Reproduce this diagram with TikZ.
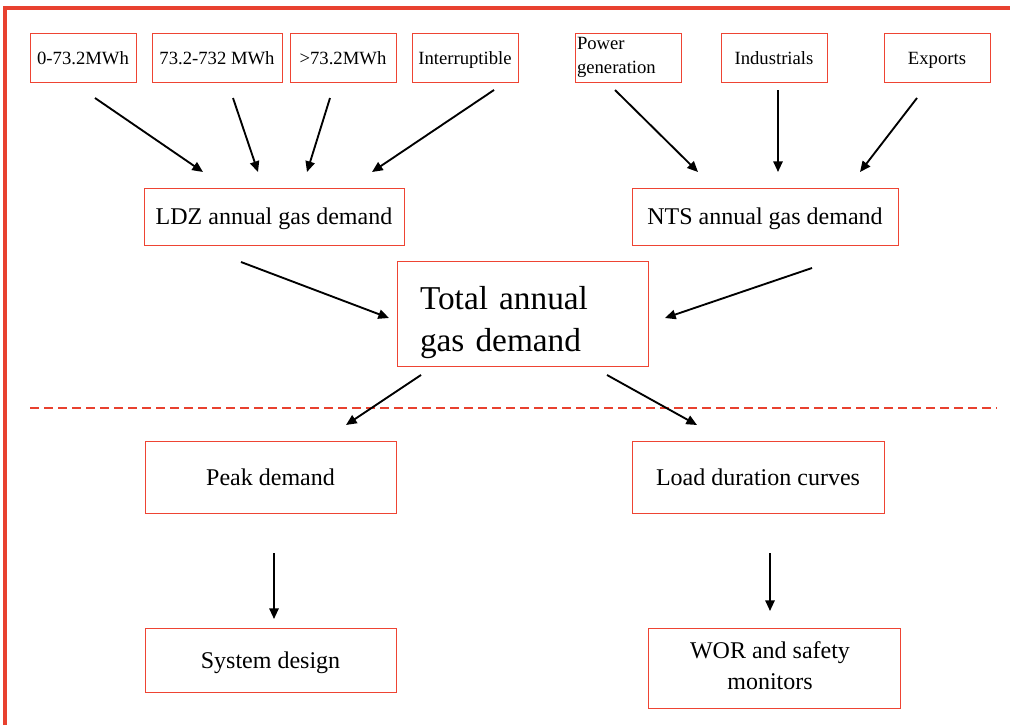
\documentclass[tikz,border=0pt]{standalone}
\usepackage{fontspec}
\setmainfont{Liberation Serif}
\usetikzlibrary{arrows.meta}
\definecolor{framered}{HTML}{E8412F}
\definecolor{boxred}{HTML}{EE4433}
\tikzset{
  box/.style 2 args={draw=boxred, line width=0.6pt, inner sep=0pt,
    minimum width=#1*0.75pt, minimum height=#2*0.75pt},
  small/.style={font=\fontsize{14}{18}\selectfont, text height=13pt, text depth=2.4pt},
  mid/.style={font=\fontsize{18}{23}\selectfont, text height=16pt, text depth=3.7pt},
  big/.style={font=\fontsize{25}{31.5}\selectfont},
  arr/.style={draw=black, line width=1.4pt, -{Triangle[length=8pt,width=7pt]}},
}
\begin{document}
\begin{tikzpicture}[x=0.75pt,y=-0.75pt]
\useasboundingbox (0,0) rectangle (1010,725);
% frame
\draw[framered, line width=2.4pt] (5,725) -- (5,8) -- (1010,8);
% dashed separator
\draw[framered, line width=1.5pt, dash pattern=on 7pt off 3.5pt] (30,408) -- (997,408);

% top boxes
\node[box={106}{49}, small] (b1) at (83,57.5) {0-73.2MWh};
\node[box={130}{49}, small] (b2) at (217,57.5) {73.2-732 MWh};
\node[box={106}{49}, small] (b3) at (343,57.5) {>73.2MWh};
\node[box={106}{49}, small] (b4) at (465,57.5) {Interruptible};
\node[box={106}{49}, font=\fontsize{14}{18}\selectfont, text width=102*0.75pt, align=left] (b5) at (628,57.5) {Power\\generation};
\node[box={106}{49}, small] (b6) at (774,57.5) {Industrials};
\node[box={106}{49}, small] (b7) at (937,57.5) {Exports};

% middle
\node[box={260}{57}, mid] (ldz) at (274,216.5) {LDZ annual gas demand};
\node[box={266}{57}, mid] (nts) at (765,216.5) {NTS annual gas demand};
\node[box={251}{105}] (tot) at (522.5,313.5) {};
\node[big, inner sep=0pt, text width=205*0.75pt, align=left] (tottext) at (522.5,323) {Total annual\\gas demand};

% lower
\node[box={251}{72}, mid] (peak) at (270.5,477) {Peak demand};
\node[box={252}{72}, mid] (load) at (758,477) {Load duration curves};
\node[box={251}{64}, mid] (sys) at (270.5,660) {System design};
\node[box={252}{80}] (wor) at (774,668) {};
\node[font=\fontsize{18}{23}\selectfont, align=center, inner sep=0pt] (wortext) at (770,665.5) {WOR and safety\\monitors};

% arrow end points
\coordinate (a1s) at (95,98);   \coordinate (a1e) at (203,172);
\coordinate (a2s) at (233,98);  \coordinate (a2e) at (258,172);
\coordinate (a3s) at (330,98);  \coordinate (a3e) at (307,172);
\coordinate (a4s) at (494,90);  \coordinate (a4e) at (372,172);
\coordinate (a5s) at (615,90);  \coordinate (a5e) at (698,172);
\coordinate (a6s) at (778,90);  \coordinate (a6e) at (778,172);
\coordinate (a7s) at (917,98);  \coordinate (a7e) at (860,172);
\coordinate (a8s) at (241,262); \coordinate (a8e) at (389,318);
\coordinate (a9s) at (812,268); \coordinate (a9e) at (665,318);
\coordinate (a10s) at (421,375); \coordinate (a10e) at (346,425);
\coordinate (a11s) at (607,375); \coordinate (a11e) at (697,425);
\coordinate (a12s) at (274,553); \coordinate (a12e) at (274,619);
\coordinate (a13s) at (770,553); \coordinate (a13e) at (770,611);

\foreach \i in {1,...,13} \draw[arr] (a\i s) -- (a\i e);
\end{tikzpicture}
\end{document}
